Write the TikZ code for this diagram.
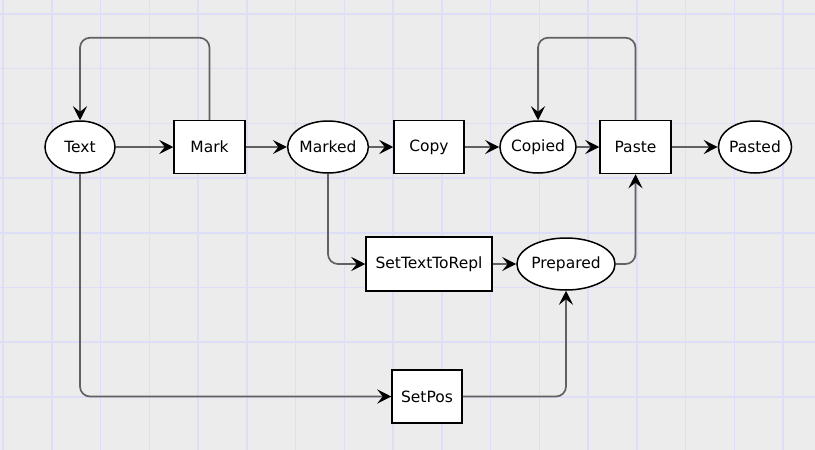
\documentclass[tikz,border=0pt]{standalone}
\usepackage{fontspec}
\setmainfont{DejaVu Sans}
\usetikzlibrary{arrows.meta,shapes.geometric}
\begin{document}
\begin{tikzpicture}[x=1pt,y=-1pt,
  place/.style={ellipse,draw=black,line width=1.5pt,fill=white,minimum width=70pt,minimum height=52pt,inner sep=0pt,font=\fontsize{15.5}{17}\selectfont},
  trans/.style={rectangle,draw=black,line width=1.5pt,fill=white,minimum width=70pt,minimum height=53pt,inner sep=0pt,font=\fontsize{15.5}{17}\selectfont},
  conn/.style={draw=black!62,line width=1.7pt,rounded corners=10pt,-{Stealth[black,length=14pt,width=14pt,inset=5.5pt]}},
  gridline/.style={draw={rgb,255:red,222;green,222;blue,248},line width=1.5pt}]
\useasboundingbox (0,0) rectangle (815,450);
\fill[black!7.5] (0,0) rectangle (815,450);
\foreach \i in {0,...,16} \draw[gridline] ({3+48.75*\i},0) -- ++(0,450);
\foreach \j in {0,...,7} \draw[gridline] (0,{14+54.7*\j}) -- ++(815,0);

\node[place] (Text) at (80,147) {Text};
\node[trans,minimum width=71pt] (Mark) at (209.5,147) {Mark};
\node[place] (Marked) at (328,147) {Marked};
\node[trans] (Copy) at (429,147) {Copy};
\node[place] (Copied) at (538,147) {Copied};
\node[trans,minimum width=71pt] (Paste) at (635.5,147) {Paste};
\node[place] (Pasted) at (755,147) {Pasted};
\node[trans,minimum width=126pt,minimum height=54pt] (Repl) at (429,264) {SetTextToRepl};
\node[place] (Prepared) at (566,264) {Prepared};
\node[trans] (SetPos) at (427,396.5) {SetPos};

\draw[conn] (Text) -- (Mark);
\draw[conn] (Mark) -- (Marked);
\draw[conn] (Marked) -- (Copy);
\draw[conn] (Copy) -- (Copied);
\draw[conn] (Copied) -- (Paste);
\draw[conn] (Paste) -- (Pasted);
\draw[conn] (Mark.north) -- ++(0,-82) -| (Text.north);
\draw[conn] (Paste.north) -- ++(0,-82) -| (Copied.north);
\draw[conn] (Marked.south) |- (Repl.west);
\draw[conn] (Repl) -- (Prepared);
\draw[conn] (Prepared.east) -| (Paste.south);
\draw[conn] (Text.south) |- (SetPos.west);
\draw[conn] (SetPos.east) -| (Prepared.south);
\end{tikzpicture}
\end{document}
